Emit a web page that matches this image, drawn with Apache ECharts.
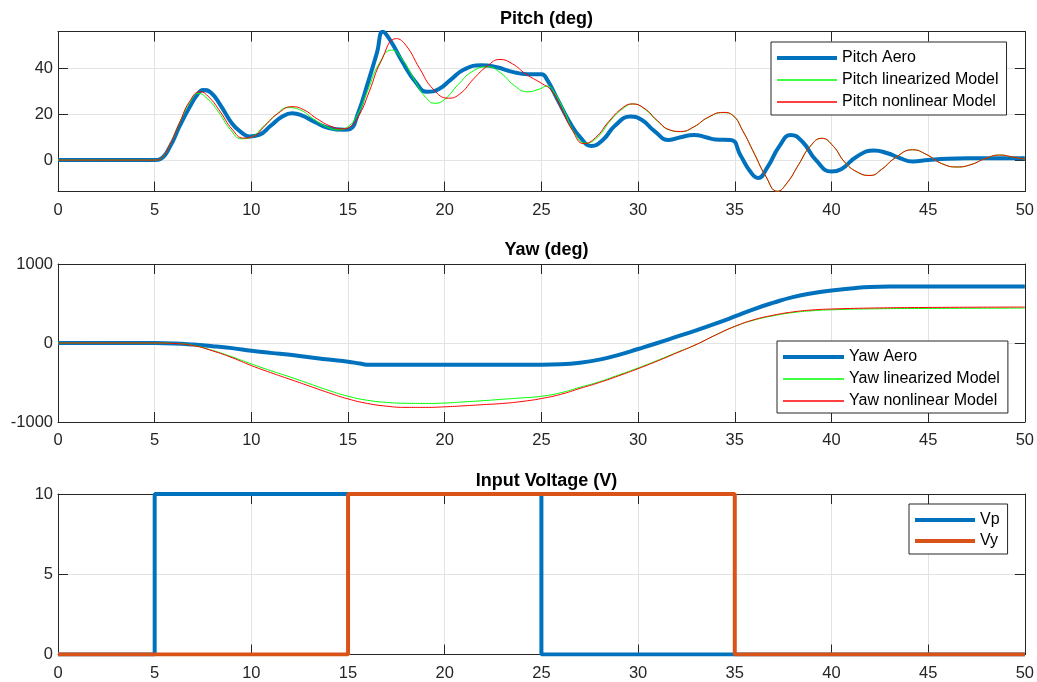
<!DOCTYPE html>
<html>
<head>
<meta charset="utf-8">
<script src="https://cdn.jsdelivr.net/npm/echarts@6/dist/echarts.min.js"></script>
<style>html,body{margin:0;padding:0;background:#fff;}#chart{width:1037px;height:682px;}</style>
</head>
<body>
<div id="chart"></div>
<script>
// ---- data (time [s], value) ----
const pitchAero = [[0,0],[5,0],[5.3,0.5],[5.8,6],[6.3,15],[6.8,23],[7.2,28.5],[7.5,30.6],[7.9,29.5],[8.4,24],[9,16],[9.5,12],[9.9,10.3],[10.4,11],[11,15],[11.6,19],[12.1,20.4],[12.6,19.5],[13.3,16.5],[14,14],[14.8,13.2],[15.1,13.5],[15.5,20],[16,33],[16.5,47],[16.8,56],[17.2,52],[17.8,43],[18.5,34],[19.1,29.8],[19.7,31],[20.3,35],[21,39.5],[21.9,41.4],[22.7,40.5],[23.5,38.5],[24.3,37.5],[25,37.5],[25.3,35],[25.8,27],[26.5,16],[27,10],[27.6,6.2],[28.2,9],[28.8,15],[29.6,19],[30.2,17.5],[30.8,13],[31.6,8.8],[32.2,10],[32.9,11],[33.5,10],[34,9],[34.8,8.8],[35.3,2],[35.8,-5],[36.2,-7.8],[36.7,-3],[37.3,6],[37.9,11],[38.5,8],[39.2,0],[40,-5],[40.5,-4],[41.3,1.5],[42.2,4.2],[42.9,3],[43.5,1],[44.2,-0.6],[45,0],[46,0.6],[47,0.8],[50,0.8]];
const pitchLinear = [[0,0],[5,0],[5.3,0.6],[5.8,7],[6.3,16.5],[6.8,25],[7.25,29.1],[7.7,27],[8.3,21],[8.9,13.5],[9.5,9.3],[10,10],[10.6,14.5],[11.3,20],[11.9,22.9],[12.5,22],[13.2,18],[13.9,14.5],[14.5,13.2],[15,14.6],[15.5,20],[16,30],[16.6,42],[17.25,48],[17.8,44],[18.5,34],[19,27.5],[19.5,24.8],[20,26.5],[20.7,33],[21.4,38.5],[22.2,40.7],[22.9,38],[23.6,32.5],[24.3,29.8],[24.9,31],[25.3,32.3],[25.7,29],[26.2,21],[26.7,12],[27.3,7.4],[27.9,10],[28.6,17.5],[29.3,23],[29.75,24.5],[30.3,22.5],[31,17],[31.6,13.2],[32.2,12.4],[32.9,14.5],[33.6,18.5],[34.4,20.7],[34.9,19.5],[35.4,13],[36,3],[36.6,-7],[37.2,-13.6],[37.7,-10],[38.3,-2],[38.9,6],[39.5,9.5],[40.1,6],[40.7,-1],[41.4,-5.5],[42,-6.7],[42.6,-4],[43.3,1],[44.2,4.5],[44.9,2.5],[45.7,-1.5],[46.5,-3],[47.2,-2],[48,0.8],[48.7,2.2],[49.4,1.3],[50,0.4]];
const pitchNonlinear = [[0,0],[5,0],[5.3,0.6],[5.8,7],[6.3,16.5],[6.8,25.5],[7.35,29.8],[7.8,27.5],[8.4,21],[9,13.5],[9.6,9.6],[10.1,10.3],[10.7,15],[11.4,20.5],[12.1,23.3],[12.7,22],[13.4,18],[14.1,14.8],[14.7,13.6],[15.1,14.5],[15.6,20],[16.1,30],[16.7,43],[17.5,53],[18,50],[18.7,40],[19.4,31],[20.2,27],[20.8,29],[21.5,35.5],[22.2,41],[22.85,43.9],[23.5,42],[24.2,37.5],[25,33.5],[25.5,30.5],[26,23],[26.6,13],[27.2,7.2],[27.8,9.8],[28.5,17],[29.2,22.8],[29.7,24.5],[30.3,22.7],[31,17.2],[31.6,13.3],[32.2,12.5],[32.9,14.6],[33.6,18.6],[34.4,20.8],[34.9,19.5],[35.4,13],[36,3],[36.6,-7],[37.2,-13.6],[37.7,-10],[38.3,-2],[38.9,6],[39.5,9.5],[40.1,6],[40.7,-1],[41.4,-5.5],[42,-6.7],[42.6,-4],[43.3,1],[44.2,4.5],[44.9,2.5],[45.7,-1.5],[46.5,-3],[47.2,-2],[48,0.8],[48.7,2.2],[49.4,1.3],[50,0.4]];

const yawAero = [[0,0],[5,0],[6,-5],[7,-20],[8,-40],[9,-65],[10,-97],[11,-125],[12,-150],[13,-180],[14,-210],[15,-236],[15.6,-260],[16.1,-275],[20,-275],[25,-275],[26,-270],[27,-250],[28,-210],[29,-150],[30,-76],[31,0],[32,80],[33,160],[34,245],[35,336],[36,430],[37,510],[38,580],[39,630],[40,665],[41,690],[42,710],[43,715],[50,715]];
const yawLinear = [[0,0],[5,0],[6,-5],[7,-30],[8,-95],[9,-175],[10,-265],[11,-350],[12,-430],[13,-515],[14,-600],[15,-674],[16,-725],[17,-752],[18,-763],[19,-765],[20,-760],[21,-745],[22,-730],[23,-712],[24,-695],[25,-674],[26,-630],[27,-560],[28,-490],[29,-405],[30,-316],[31,-220],[32,-120],[33,-20],[34,100],[35,210],[36,290],[37,345],[38,385],[39,408],[40,420],[42,432],[45,438],[50,442]];
const yawNonlinear = [[0,0],[5,0],[6,-6],[7,-33],[8,-100],[9,-185],[10,-286],[11,-375],[12,-460],[13,-545],[14,-630],[15,-708],[16,-765],[17,-800],[18,-815],[19,-815],[20,-808],[21,-795],[22,-780],[23,-765],[24,-740],[25,-703],[26,-650],[27,-575],[28,-500],[29,-415],[30,-325],[31,-228],[32,-125],[33,-20],[34,100],[35,210],[36,295],[37,352],[38,393],[39,418],[40,430],[42,442],[45,450],[50,455]];

const voltVp = [[0,0],[5,0],[5,10],[25,10],[25,0],[50,0]];
const voltVy = [[0,0],[15,0],[15,10],[35,10],[35,0],[50,0]];

const titles = ['Pitch (deg)', 'Yaw (deg)', 'Input Voltage (V)'];
const pitchNames = ['Pitch Aero', 'Pitch linearized Model', 'Pitch nonlinear Model'];
const yawNames = ['Yaw Aero', 'Yaw linearized Model', 'Yaw nonlinear Model'];
const voltNames = ['Vp', 'Vy'];

// ---- styling / layout ----
const FONT = "'Liberation Sans', Arial, Helvetica, sans-serif";
const INK = '#262626';
const GRIDC = '#e3e3e3';
const BLUE = '#0072BD', ORANGE = '#D95319', GREEN = '#00FF00', RED = '#FF0000';
const THICK_ICON = 'path://M0,0H60V4H0Z';
const THIN_ICON = 'path://M0,0H60V1.4H0Z';

const grids = [
  {left: 58, right: 12, top: 31.5, height: 160},
  {left: 58, right: 12, top: 264, height: 158},
  {left: 58, right: 12, top: 494, height: 160.5}
];
const yCfg = [
  {min: -13.7, max: 56.1, splitNumber: 3},
  {min: -1000, max: 1000, interval: 1000},
  {min: 0, max: 10, interval: 5}
];

const xAxes = [], yAxes = [];
grids.forEach((g, i) => {
  xAxes.push({
    type: 'value', gridIndex: i, min: 0, max: 50, interval: 5, position: 'bottom',
    axisLine: {show: true, onZero: false, lineStyle: {color: INK, width: 1}},
    axisTick: {show: true, inside: true, length: 10, lineStyle: {color: INK}},
    axisLabel: {fontFamily: FONT, fontSize: 16.5, color: INK, margin: 10},
    splitLine: {show: true, lineStyle: {color: GRIDC, width: 1}}
  });
  xAxes.push({
    type: 'value', gridIndex: i, min: 0, max: 50, interval: 5, position: 'top',
    axisLine: {show: true, onZero: false, lineStyle: {color: INK, width: 1}},
    axisTick: {show: true, inside: true, length: 10, lineStyle: {color: INK}},
    axisLabel: {show: false}, splitLine: {show: false}
  });
  const c = yCfg[i];
  const base = {type: 'value', gridIndex: i, min: c.min, max: c.max};
  if (c.interval) base.interval = c.interval; else base.splitNumber = c.splitNumber;
  yAxes.push(Object.assign({}, base, {
    position: 'left',
    axisLine: {show: true, onZero: false, lineStyle: {color: INK, width: 1}},
    axisTick: {show: true, inside: true, length: 10, lineStyle: {color: INK}},
    axisLabel: {fontFamily: FONT, fontSize: 16.5, color: INK, margin: 5,
                formatter: v => String(v),
                showMinLabel: i !== 0, showMaxLabel: i !== 0},
    splitLine: {show: true, lineStyle: {color: GRIDC, width: 1}}
  }));
  yAxes.push(Object.assign({}, base, {
    position: 'right',
    axisLine: {show: true, onZero: false, lineStyle: {color: INK, width: 1}},
    axisTick: {show: true, inside: true, length: 10, lineStyle: {color: INK}},
    axisLabel: {show: false}, splitLine: {show: false}
  }));
});

function line(name, data, gi, color, width, smooth) {
  return {
    name, type: 'line', data, xAxisIndex: gi * 2, yAxisIndex: gi * 2,
    showSymbol: false, symbol: 'none', smooth: smooth,
    lineStyle: {color, width}, itemStyle: {color}, animation: false, clip: true
  };
}

const series = [
  line(pitchNames[0], pitchAero, 0, BLUE, 4, 0.5),
  line(pitchNames[1], pitchLinear, 0, GREEN, 1, 0.5),
  line(pitchNames[2], pitchNonlinear, 0, RED, 1, 0.5),
  line(yawNames[0], yawAero, 1, BLUE, 4, 0.5),
  line(yawNames[1], yawLinear, 1, GREEN, 1, 0.5),
  line(yawNames[2], yawNonlinear, 1, RED, 1, 0.5),
  line(voltNames[0], voltVp, 2, BLUE, 4, false),
  line(voltNames[1], voltVy, 2, ORANGE, 4, false)
];

function legend(names, icons, colors, left, top, gap, itemWidth, padding) {
  return {
    data: names.map((n, k) => ({name: n, icon: icons[k], itemStyle: {color: colors[k]}})),
    orient: 'vertical', left, top,
    itemWidth: itemWidth, itemHeight: 14, itemGap: gap,
    padding: padding, symbolKeepAspect: true,
    backgroundColor: '#ffffff', borderColor: INK, borderWidth: 1, borderRadius: 0,
    textStyle: {fontFamily: FONT, fontSize: 16, color: '#000'},
    selectedMode: false, z: 10
  };
}

const option = {
  animation: false,
  backgroundColor: '#ffffff',
  title: titles.map((t, i) => ({
    text: t, left: 541.5, top: [5, 236, 467][i], textAlign: 'center',
    textStyle: {fontFamily: FONT, fontSize: 18, fontWeight: 'bold', color: '#000'}
  })),
  grid: grids,
  xAxis: xAxes,
  yAxis: yAxes,
  legend: [
    legend(pitchNames, [THICK_ICON, THIN_ICON, THIN_ICON], [BLUE, GREEN, RED], 771, 42, 6, 60, [8, 8, 5, 6]),
    legend(yawNames, [THICK_ICON, THIN_ICON, THIN_ICON], [BLUE, GREEN, RED], 777, 341, 6, 61, [8, 8, 4, 6]),
    legend(voltNames, [THICK_ICON, THICK_ICON], [BLUE, ORANGE], 909, 504, 5, 60, [8, 8, 5, 6])
  ],
  series
};

const chart = echarts.init(document.getElementById('chart'), null, {renderer: 'canvas'});
chart.setOption(option);
</script>
</body>
</html>
